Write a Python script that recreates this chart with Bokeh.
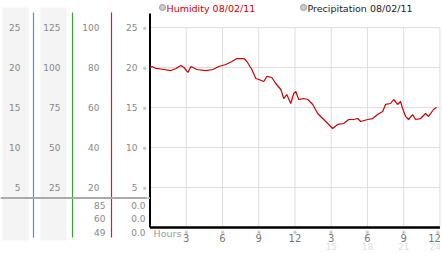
from bokeh.plotting import figure
from bokeh.layouts import row
from bokeh.models import Range1d
from bokeh.core.properties import value
from bokeh.embed import file_html
from bokeh.resources import INLINE

# ---------------- data ----------------
hours = [0.00, 0.17, 0.50, 1.16, 1.74, 2.15, 2.56, 2.81, 3.14, 3.39, 3.88, 4.63, 5.21, 5.70,
         6.28, 6.78, 7.19, 7.77, 8.02, 8.43, 8.76, 9.01, 9.42, 9.67, 10.08, 10.41, 10.83,
         11.07, 11.32, 11.65, 11.90, 12.07, 12.31, 12.73, 13.06, 13.47, 13.88, 14.30, 14.71,
         15.12, 15.54, 16.03, 16.45, 16.86, 17.19, 17.44, 18.02, 18.43, 18.84, 19.26, 19.50,
         19.92, 20.17, 20.50, 20.74, 20.91, 21.16, 21.40, 21.74, 21.98, 22.40, 22.81, 23.06,
         23.47, 23.72]
humidity = [20.00, 20.12, 19.88, 19.75, 19.62, 19.88, 20.25, 20.00, 19.38, 20.12, 19.75, 19.62,
            19.75, 20.12, 20.38, 20.75, 21.12, 21.12, 20.75, 19.75, 18.62, 18.50, 18.25, 18.88,
            18.75, 18.00, 17.25, 16.12, 16.62, 15.50, 16.75, 17.00, 16.00, 16.12, 16.00, 15.38,
            14.25, 13.62, 13.00, 12.38, 12.88, 13.00, 13.50, 13.50, 13.62, 13.25, 13.50, 13.62,
            14.12, 14.50, 15.38, 15.50, 16.00, 15.38, 15.75, 14.88, 13.88, 13.50, 14.12, 13.50,
            13.62, 14.25, 13.88, 14.75, 15.00]

grid_values = [5, 10, 15, 20, 25]
col1_labels = ["5", "10", "15", "20", "25"]
col2_labels = ["25", "50", "75", "100", "125"]
col3_labels = ["20", "40", "60", "80", "100"]
col4_labels = ["5", "10", "15", "20", "25"]
hour_ticks = [3, 6, 9, 12, 15, 18, 21, 24]
hour_tick_labels = ["3", "6", "9", "12", "3", "6", "9", "12"]
hour24_ticks = [15, 18, 21, 24]
hour24_labels = ["15", "18", "21", "24"]
lower_left_labels = ["85", "60", "49"]
lower_right_labels = ["0.0", "0.0", "0.0"]
legend_labels = ["Humidity 08/02/11", "Precipitation 08/02/11"]

# ---------------- layout constants ----------------
W, H = 442, 253
LEFT_W = 147
Y0_PX = 227.0      # pixel row of value 0
PX_PER_UNIT = 8.0
X0_PX = 149.5      # pixel column of hour 0
PX_PER_HR = 12.08
FONT = value("DejaVu Sans")


def py(px):
    return (Y0_PX - px) / PX_PER_UNIT


def hx(px):
    return (px - X0_PX) / PX_PER_HR


yr = Range1d(py(H), py(0))

# ---------------- left panel ----------------
lp = figure(width=LEFT_W, height=H, x_range=Range1d(0, LEFT_W), y_range=yr,
            output_backend="svg", toolbar_location=None, min_border=0)
lp.axis.visible = False
lp.grid.visible = False
lp.outline_line_color = None
lp.background_fill_color = "white"

lp.quad(left=[2, 40], right=[28, 66], top=py(7), bottom=py(240),
        fill_color="#f4f4f4", line_color=None)
lp.segment(x0=[33, 72, 111], x1=[33, 72, 111], y0=py(12), y1=py(237),
           line_color=["#3b9bd3", "#3aa33a", "#c0282d"], line_width=1.2)
lp.segment(x0=0, x1=LEFT_W, y0=py(197.5), y1=py(197.5), line_color="#aaaaaa", line_width=2)

lab_kw = dict(text_font=FONT, text_font_size="9px", text_color="#888888",
              text_baseline="middle", text_align="right")
lp.text(x=20, y=grid_values, text=col1_labels, **lab_kw)
lp.text(x=60, y=grid_values, text=col2_labels, **lab_kw)
lp.text(x=99, y=grid_values, text=col3_labels, **lab_kw)
lp.text(x=137, y=grid_values, text=col4_labels, **lab_kw)
lp.text(x=144, y=grid_values, text=["※"] * len(grid_values), text_font=FONT,
        text_font_size="5px", text_color="#999999", text_baseline="middle", text_align="center")
low_rows = [py(204.5), py(218), py(231.5)]
lp.text(x=105, y=low_rows, text=lower_left_labels, **lab_kw)
lp.text(x=145, y=low_rows, text=lower_right_labels, **lab_kw)

# ---------------- main plot ----------------
p = figure(width=W - LEFT_W, height=H, x_range=Range1d(hx(LEFT_W), hx(W)), y_range=yr,
           output_backend="svg", toolbar_location=None, min_border=0)
p.axis.visible = False
p.grid.visible = False
p.outline_line_color = None
p.background_fill_color = "white"

# grid
p.segment(x0=0, x1=24, y0=grid_values, y1=grid_values, line_color="#dddddd", line_width=1)
p.segment(x0=hour_ticks, x1=hour_ticks, y0=0, y1=25, line_color="#dddddd", line_width=1)

# axes lines
p.segment(x0=0, x1=0, y0=0, y1=py(13), line_color="black", line_width=2)
p.segment(x0=0, x1=24, y0=0, y1=0, line_color="black", line_width=2.5)
p.segment(x0=hx(LEFT_W), x1=0, y0=py(197.5), y1=py(197.5), line_color="#aaaaaa", line_width=2)

# humidity line
p.line(hours, humidity, line_color="#cc0000", line_width=1.2)

# x tick marks and labels (last label kept inside the edge)
p.text(x=hour_ticks[:-1], y=py(231), text=["※"] * (len(hour_ticks) - 1), text_font=FONT,
       text_font_size="5px", text_color="#999999", text_baseline="middle", text_align="center")
p.text(x=hour_ticks[-1:], y=py(231), text=["※"], text_font=FONT, x_offset=-2,
       text_font_size="5px", text_color="#999999", text_baseline="middle", text_align="center")
p.text(x=hour_ticks[:-1], y=py(237.5), text=hour_tick_labels[:-1], text_font=FONT,
       text_font_size="10px", text_color="#777777", text_baseline="middle", text_align="center")
p.text(x=hour_ticks[-1:], y=py(237.5), text=hour_tick_labels[-1:], text_font=FONT, x_offset=1,
       text_font_size="10px", text_color="#777777", text_baseline="middle", text_align="right")
p.text(x=hour24_ticks[:-1], y=py(245.5), text=hour24_labels[:-1], text_font=FONT,
       text_font_size="9px", text_color="#dddddd", text_baseline="middle", text_align="center")
p.text(x=hour24_ticks[-1:], y=py(245.5), text=hour24_labels[-1:], text_font=FONT, x_offset=1,
       text_font_size="9px", text_color="#dddddd", text_baseline="middle", text_align="right")
p.text(x=hx(153), y=py(232.5), text=["Hours"], text_font=FONT,
       text_font_size="9.5px", text_color="#999999", text_baseline="middle", text_align="left")

# legend
p.scatter(x=[hx(162), hx(303)], y=py(7), size=6, marker="circle",
          fill_color="#cccccc", line_color="#999999", line_width=1)
p.text(x=[hx(166), hx(307)], y=py(7.5), text=legend_labels, text_font=FONT,
       text_font_size="9.5px", text_color=["#cc0000", "#222222"],
       text_baseline="middle", text_align="left")

layout = row(lp, p, spacing=0)
open("out.html", "w").write(file_html(layout, INLINE))
